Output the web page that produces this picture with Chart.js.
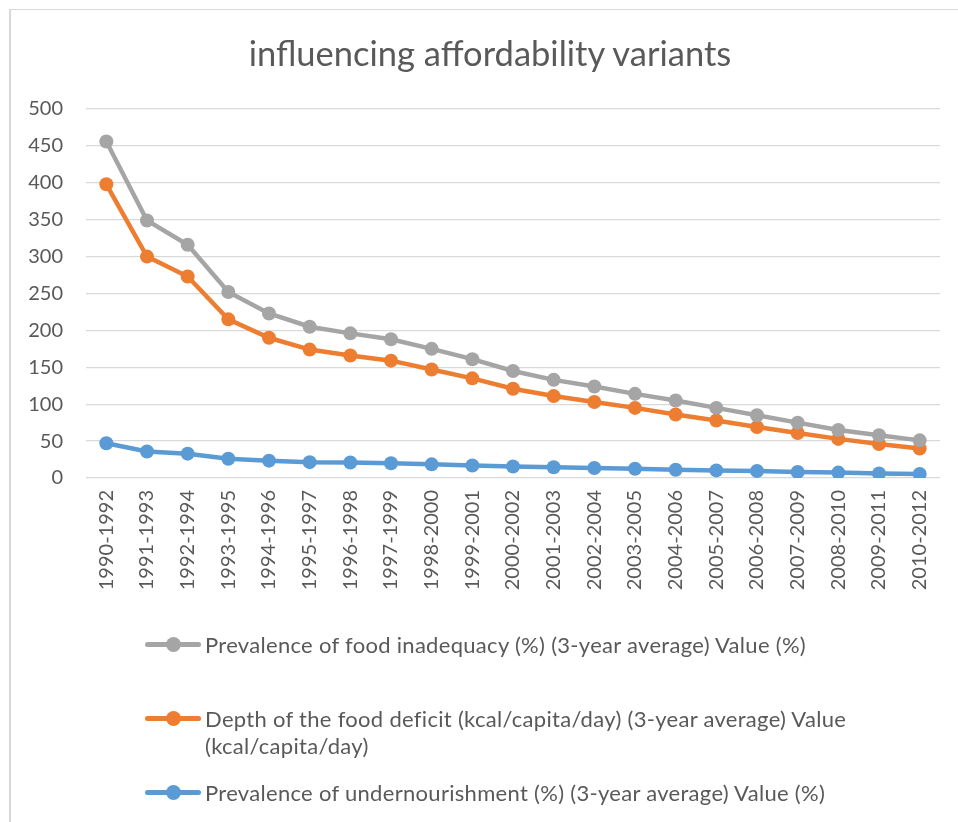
<!DOCTYPE html>
<html>
<head>
<meta charset="utf-8">
<script src="https://cdn.jsdelivr.net/npm/chart.js@4.4.1/dist/chart.umd.min.js"></script>
<style>
    html, body { margin: 0; padding: 0; background: #fff; }
    #wrap { position: relative; width: 958px; height: 822px; overflow: hidden; }
    #frame { position: absolute; left: 9px; top: 9px; width: 1000px; height: 900px; border-top: 1px solid #d9d9d9; border-left: 2px solid #d9d9d9; }
    #chart { position: absolute; left: 0; top: 0; }
    #title { position: absolute; left: 0; width: 980px; top: 31px; text-align: center; font-family: Lato, sans-serif; font-size: 34.5px; line-height: 44px; color: #595959; }
    #legend { position: absolute; left: 0; top: 0; font-family: Lato, sans-serif; color: #595959; }
    .item { position: absolute; left: 145px; width: 790px; display: flex; align-items: flex-start; }
    .mark { position: relative; width: 56px; height: 27px; flex: none; }
    .mark .ln { position: absolute; left: 0; right: 0; top: 11px; height: 5px; border-radius: 3px; }
    .mark .dot { position: absolute; left: 21px; top: 6px; width: 15px; height: 15px; border-radius: 50%; }
    .txt { margin-left: 4px; font-size: 22px; letter-spacing: 0.3px; line-height: 27px; width: 700px; }
</style>
</head>
<body>
<div id="wrap">
    <div id="frame"></div>
    <canvas id="chart" width="958" height="822"></canvas>
    <div id="title"></div>
    <div id="legend"></div>
</div>
<script>
// categorias (eixo x)
const periods = ['1990-1992', '1991-1993', '1992-1994', '1993-1995', '1994-1996', '1995-1997', '1996-1998',
    '1997-1999', '1998-2000', '1999-2001', '2000-2002', '2001-2003', '2002-2004', '2003-2005', '2004-2006',
    '2005-2007', '2006-2008', '2007-2009', '2008-2010', '2009-2011', '2010-2012'];

// séries
const foodInadequacy = [456, 349, 316, 252, 223, 205, 196, 188, 175, 161, 145, 133, 124, 114, 105, 95, 85, 75, 65, 58, 51];
const foodDeficit = [398, 300, 273, 215, 190, 174, 166, 159, 147, 135, 121, 111, 103, 95, 86, 78, 69, 61, 53, 46, 40];
const undernourishment = [47, 36, 33, 26, 23.5, 21.5, 21, 20, 18.5, 17, 15.5, 14.5, 13.5, 12.5, 11.2, 10.3, 9.5, 8.2, 7.3, 6, 5.4];

const labels = [
    'Prevalence of food inadequacy (%) (3-year average) Value (%)',
    'Depth of the food deficit (kcal/capita/day) (3-year average) Value (kcal/capita/day)',
    'Prevalence of undernourishment (%) (3-year average) Value (%)'
];
const colors = ['#a5a5a5', '#ed7d31', '#5b9bd5'];
const yTicks = [0, 50, 100, 150, 200, 250, 300, 350, 400, 450, 500];
const chartTitle = 'influencing affordability variants';

const textColor = '#595959';
const fontFamily = 'Lato, sans-serif';

const mkSet = (i, data) => ({
    label: labels[i],
    data: data,
    borderColor: colors[i],
    backgroundColor: colors[i],
    borderWidth: 4.5,
    pointRadius: 7,
    pointHoverRadius: 7,
    pointBorderWidth: 0,
    tension: 0
});

new Chart(document.getElementById('chart'), {
    type: 'line',
    data: {
        labels: periods,
        datasets: [mkSet(0, foodInadequacy), mkSet(1, foodDeficit), mkSet(2, undernourishment)]
    },
    options: {
        responsive: false,
        animation: false,
        layout: { padding: { left: 0, right: 18, top: 109, bottom: 214 } },
        plugins: {
            legend: { display: false },
            tooltip: { enabled: false },
            title: { display: false }
        },
        scales: {
            x: {
                offset: true,
                grid: { display: false, drawTicks: false },
                border: { display: false },
                ticks: {
                    color: textColor,
                    font: { family: fontFamily, size: 20 },
                    minRotation: 90,
                    maxRotation: 90,
                    autoSkip: false,
                    padding: 12
                },
                afterFit: (s) => { s.height = 130; }
            },
            y: {
                min: 0,
                max: 500,
                afterBuildTicks: (s) => { s.ticks = yTicks.map(v => ({ value: v })); },
                grid: { color: '#d9d9d9', lineWidth: 1.3, drawTicks: false },
                border: { display: false },
                ticks: {
                    color: textColor,
                    font: { family: fontFamily, size: 20 },
                    padding: 23
                },
                afterFit: (s) => { s.width = 86; }
            }
        }
    }
});

document.getElementById('title').textContent = chartTitle;

// Legenda manual (vertical, como no original)
const legendTops = [631, 705, 779];
const legend = document.getElementById('legend');
labels.forEach((txt, i) => {
    const item = document.createElement('div');
    item.className = 'item';
    item.style.top = legendTops[i] + 'px';
    item.innerHTML = '<div class="mark"><div class="ln" style="background:' + colors[i] + '"></div>' +
        '<div class="dot" style="background:' + colors[i] + '"></div></div>' +
        '<div class="txt">' + txt + '</div>';
    legend.appendChild(item);
});
</script>
</body>
</html>
